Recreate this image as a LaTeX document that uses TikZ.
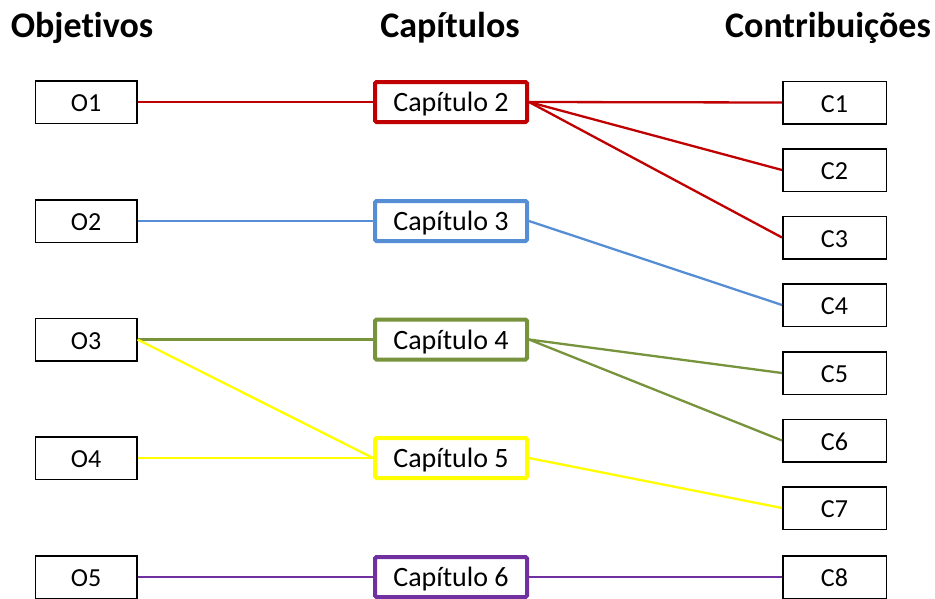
\documentclass[tikz,border=0pt]{standalone}
\usepackage{fontspec}
\setmainfont{Carlito}[Ligatures={NoCommon}]
\definecolor{capred}{HTML}{C00000}
\definecolor{capblue}{HTML}{558ED5}
\definecolor{capgreen}{HTML}{77933C}
\definecolor{capyellow}{HTML}{FFFF00}
\definecolor{cappurple}{HTML}{7030A0}
\begin{document}
\begin{tikzpicture}[x=1pt,y=-1pt,
  header/.style={font=\fontsize{36}{42}\selectfont\bfseries, anchor=base, inner sep=0pt},
  plainbox/.style={draw=black, line width=1.5pt, fill=white, minimum width=101.5pt,
    minimum height=42.5pt, inner sep=0pt, text height=19pt, text depth=0pt,
    font=\fontsize{26}{30}\selectfont},
  chapbox/.style={draw=#1, line width=4pt, rounded corners=1.5pt, fill=white,
    minimum width=152pt, minimum height=40pt, inner sep=0pt, text height=19.5pt,
    text depth=0pt, font=\fontsize{28}{32}\selectfont},
  link/.style={draw=#1, line width=2.3pt}]
\useasboundingbox (0,0) rectangle (935,598);
\clip (0,0) rectangle (935,598);

% column headers
\node[header] (hobj) at (82,37) {Objetivos};
\node[header] (hcap) at (450,37) {Capítulos};
\node[header] (hcon) at (828,37) {Contribuições};

% objectives
\node[plainbox] (o1) at (86,102) {O1};
\node[plainbox] (o2) at (86,221) {O2};
\node[plainbox] (o3) at (86,339.5) {O3};
\node[plainbox] (o4) at (86,458) {O4};
\node[plainbox] (o5) at (86,577) {O5};

% chapters
\node[chapbox=capred] (k2) at (451,102) {Capítulo 2};
\node[chapbox=capblue] (k3) at (451,221) {Capítulo 3};
\node[chapbox=capgreen] (k4) at (451,339.5) {Capítulo 4};
\node[chapbox=capyellow] (k5) at (451,458) {Capítulo 5};
\node[chapbox=cappurple] (k6) at (451,577) {Capítulo 6};

% contributions
\node[plainbox, minimum width=103.5pt] (c1) at (834.5,102.5) {C1};
\node[plainbox, minimum width=103.5pt] (c2) at (834.5,170) {C2};
\node[plainbox, minimum width=103.5pt] (c3) at (834.5,237.5) {C3};
\node[plainbox, minimum width=103.5pt] (c4) at (834.5,305) {C4};
\node[plainbox, minimum width=103.5pt] (c5) at (834.5,373) {C5};
\node[plainbox, minimum width=103.5pt] (c6) at (834.5,440.5) {C6};
\node[plainbox, minimum width=103.5pt] (c7) at (834.5,508) {C7};
\node[plainbox, minimum width=103.5pt] (c8) at (834.5,577) {C8};

% objectives to chapters
\path[link=capred] (o1.east) -- (k2.west);
\path[link=capblue] (o2.east) -- (k3.west);
\path[link=capgreen] (o3.east) -- (k4.west);
\path[link=capyellow] (o3.east) -- (k5.west);
\path[link=capyellow] (o4.east) -- (k5.west);
\path[link=cappurple] (o5.east) -- (k6.west);

% chapters to contributions
\path[link=capred] (k2.east) -- (c1.west);
\path[link=capred] (k2.east) -- (c2.west);
\path[link=capred] (k2.east) -- (c3.west);
\path[link=capblue] (k3.east) -- (c4.west);
\path[link=capgreen] (k4.east) -- (c5.west);
\path[link=capgreen] (k4.east) -- (c6.west);
\path[link=capyellow] (k5.east) -- (c7.west);
\path[link=cappurple] (k6.east) -- (c8.west);
\end{tikzpicture}
\end{document}
